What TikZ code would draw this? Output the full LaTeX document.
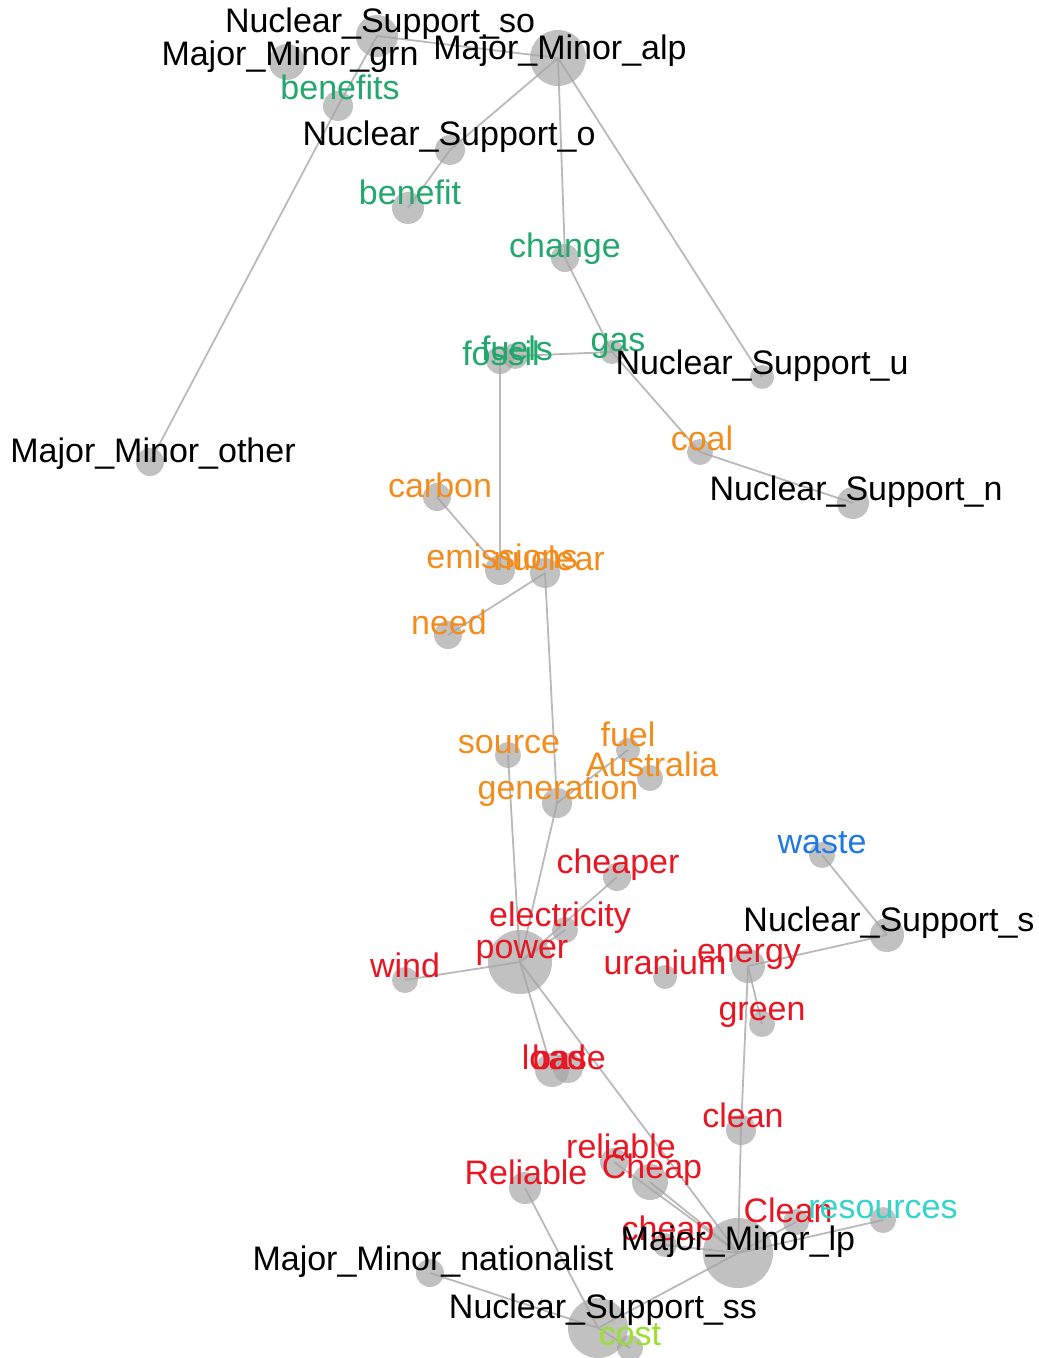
\documentclass[tikz,border=0pt]{standalone}
\usepackage{fontspec}
\setmainfont{Liberation Sans}
\usetikzlibrary{backgrounds}

\definecolor{wgreen}{RGB}{34,168,108}
\definecolor{worange}{RGB}{242,140,28}
\definecolor{wred}{RGB}{232,22,34}
\definecolor{wblue}{RGB}{31,120,228}
\definecolor{wcyan}{RGB}{52,212,200}
\definecolor{wlime}{RGB}{154,224,44}

\begin{document}
\begin{tikzpicture}[x=0.5pt, y=-0.5pt,
    every node/.style={inner sep=0pt},
    dot/.style={circle, fill=gray!70, fill opacity=0.7, minimum size=#1*0.5pt},
    word/.style={text=#1, anchor=base, font=\fontsize{17}{20}\selectfont},
    link/.style={draw=gray!55, line width=0.9pt}]

\useasboundingbox (0,0) rectangle (1038,1358);

% name / circle x / circle y / size / text x / text y / colour / text
\def\words{
    ns_so/377/36/42/380/33/black/Nuclear\_Support\_so,
    mm_grn/287/62/36/290/66/black/Major\_Minor\_grn,
    mm_alp/558/58/56/560/60/black/Major\_Minor\_alp,
    benefits/338/106/30/340/100/wgreen/benefits,
    ns_o/450/150/30/449/146/black/Nuclear\_Support\_o,
    benefit/408/208/32/410/205/wgreen/benefit,
    change/565/258/28/565/258/wgreen/change,
    fossil/500/360/28/501/365/wgreen/fossil,
    fuels/515/356/26/517/360/wgreen/fuels,
    gas/612/352/24/618/351/wgreen/gas,
    ns_u/762/377/24/762/374/black/Nuclear\_Support\_u,
    mm_other/150/462/28/153/462/black/Major\_Minor\_other,
    coal/700/452/26/702/450/worange/coal,
    ns_n/853/503/32/856/500/black/Nuclear\_Support\_n,
    carbon/437/497/28/440/497/worange/carbon,
    emissions/500/570/30/502/568/worange/emissions,
    nuclear/545/573/30/549/570/worange/nuclear,
    need/448/635/28/449/634/worange/need,
    source/508/755/26/509/753/worange/source,
    fuel/628/750/24/628/746/worange/fuel,
    australia/650/778/26/652/776/worange/Australia,
    generation/557/803/30/558/799/worange/generation,
    cheaper/617/877/28/618/873/wred/cheaper,
    waste/822/855/26/822/853/wblue/waste,
    ns_s/887/935/34/889/931/black/Nuclear\_Support\_s,
    electricity/565/930/26/560/926/wred/electricity,
    power/520/962/64/522/958/wred/power,
    wind/405/980/26/405/977/wred/wind,
    uranium/665/977/24/665/974/wred/uranium,
    energy/748/966/34/749/962/wred/energy,
    green/762/1024/26/762/1020/wred/green,
    load/552/1070/34/554/1069/wred/load,
    base/568/1068/30/569/1069/wred/base,
    clean/741/1130/30/743/1127/wred/clean,
    reliable/614/1162/28/621/1158/wred/reliable,
    Cheap/650/1182/36/652/1178/wred/Cheap,
    Reliable/525/1188/32/526/1184/wred/Reliable,
    Clean/796/1222/26/788/1222/wred/Clean,
    resources/883/1220/26/883/1218/wcyan/resources,
    cheap/665/1245/24/668/1240/wred/cheap,
    mm_lp/738/1253/70/738/1250/black/Major\_Minor\_lp,
    mm_nat/430/1273/28/433/1270/black/Major\_Minor\_nationalist,
    ns_ss/598/1328/60/603/1318/black/Nuclear\_Support\_ss,
    cost/630/1348/26/630/1345/wlime/cost}

% Circles
\foreach \n/\cx/\cy/\s/\tx/\ty/\c/\t in \words {
    \node[dot=\s] (\n) at (\cx,\cy) {};
}

% Connections, under the circles
\begin{scope}[on background layer]
\foreach \a/\b in {ns_so/mm_alp, ns_so/benefits, benefits/mm_other,
    mm_alp/ns_o, ns_o/benefit, mm_alp/change, mm_alp/ns_u,
    change/gas, gas/coal, fuels/gas, fossil/emissions, coal/ns_n,
    carbon/emissions, need/nuclear, nuclear/generation,
    source/power, generation/power, generation/fuel, cheaper/power,
    electricity/power, wind/power, power/load, power/mm_lp,
    energy/ns_s, waste/ns_s, energy/green, energy/clean, clean/mm_lp,
    resources/mm_lp, Clean/mm_lp, cheap/mm_lp, Cheap/mm_lp,
    reliable/mm_lp, mm_lp/ns_ss, Reliable/ns_ss, mm_nat/ns_ss, cost/ns_ss} {
    \draw[link] (\a.center) -- (\b.center);
}
\end{scope}

% Labels
\foreach \n/\cx/\cy/\s/\tx/\ty/\c/\t in \words {
    \node[word=\c] (\n-t) at (\tx,\ty) {\t};
}

\end{tikzpicture}
\end{document}
